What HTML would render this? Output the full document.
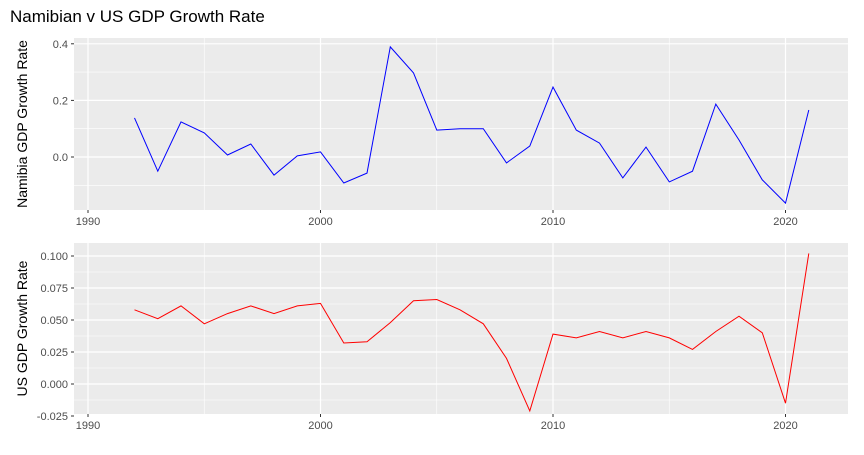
<!DOCTYPE html>
<html><head><meta charset="utf-8"><style>
body{margin:0;background:#fff;font-family:"Liberation Sans",Arial,sans-serif}
</style></head><body>
<svg width="864" height="450" xmlns="http://www.w3.org/2000/svg" font-family="Liberation Sans, Arial, sans-serif">
<text x="10" y="22" font-size="17" fill="#000">Namibian v US GDP Growth Rate</text>
<g id="top"></g>
<g id="bot"></g>
</svg>
<script>
const years=[1992,1993,1994,1995,1996,1997,1998,1999,2000,2001,2002,2003,2004,2005,2006,2007,2008,2009,2010,2011,2012,2013,2014,2015,2016,2017,2018,2019,2020,2021];
const namibiaGrowth=[0.138,-0.05,0.124,0.085,0.007,0.046,-0.064,0.004,0.018,-0.092,-0.057,0.389,0.297,0.095,0.1,0.1,-0.021,0.039,0.247,0.095,0.049,-0.074,0.035,-0.088,-0.05,0.187,0.06,-0.081,-0.163,0.166];
const usGrowth=[0.058,0.051,0.061,0.047,0.055,0.061,0.055,0.061,0.063,0.032,0.033,0.048,0.065,0.066,0.058,0.047,0.02,-0.021,0.039,0.036,0.041,0.036,0.041,0.036,0.027,0.041,0.053,0.04,-0.015,0.102];
const xTicks=[1990,2000,2010,2020];
const topTicks=[0.0,0.2,0.4];
const topTickLabels=["0.0","0.2","0.4"];
const botTicks=[-0.025,0,0.025,0.05,0.075,0.1];
const botTickLabels=["-0.025","0.000","0.025","0.050","0.075","0.100"];
const NS="http://www.w3.org/2000/svg";
const L=74,R=848;
const xs=y=>88+(y-1990)*23.25;
function mk(p,t,a){const e=document.createElementNS(NS,t);for(const k in a)e.setAttribute(k,a[k]);p.appendChild(e);return e;}
function panel(g,top,bot,ys,ticks,labels,vals,color,title,minorStep){
  const bg=mk(g,'rect',{x:L,y:top,width:R-L,height:bot-top,fill:'#ebebeb'});
  
  
  // minor gridlines
  for(let i=0;i<ticks.length-1;i++){const v=(ticks[i]+ticks[i+1])/2;mk(g,'line',{x1:L,x2:R,y1:ys(v),y2:ys(v),stroke:'#fff','stroke-width':0.6});}
  const extra=[ticks[ticks.length-1]+minorStep/2,ticks[0]-minorStep/2];
  extra.forEach(v=>{const yy=ys(v);if(yy>top&&yy<bot)mk(g,'line',{x1:L,x2:R,y1:yy,y2:yy,stroke:'#fff','stroke-width':0.6});});
  for(let i=0;i<xTicks.length-1;i++){const x=xs(xTicks[i]+5);mk(g,'line',{x1:x,x2:x,y1:top,y2:bot,stroke:'#fff','stroke-width':0.6});}
  {const x=xs(2025);if(x<R)mk(g,'line',{x1:x,x2:x,y1:top,y2:bot,stroke:'#fff','stroke-width':0.6});}
  ticks.forEach((v,i)=>{const y=ys(v);
    mk(g,'line',{x1:L,x2:R,y1:y,y2:y,stroke:'#fff','stroke-width':1.2});
    mk(g,'line',{x1:L-3,x2:L,y1:y,y2:y,stroke:'#333'});
    const t=mk(g,'text',{x:L-6,y:y+4,'font-size':11,fill:'#4d4d4d','text-anchor':'end'});t.textContent=labels[i];
    
    
  });
  xTicks.forEach(v=>{const x=xs(v);
    mk(g,'line',{x1:x,x2:x,y1:top,y2:bot,stroke:'#fff','stroke-width':1.2});
    mk(g,'line',{x1:x,x2:x,y1:bot,y2:bot+3,stroke:'#333'});
    const t=mk(g,'text',{x:x,y:bot+15,'font-size':11,fill:'#4d4d4d','text-anchor':'middle'});t.textContent=v;
    
    
  });
  const pts=years.map((y,i)=>xs(y).toFixed(1)+','+ys(vals[i]).toFixed(1)).join(' ');
  const pl=mk(g,'polyline',{points:pts,fill:'none',stroke:color,'stroke-width':1});
  
  
  const cy=(top+bot)/2;
  const tt=mk(g,'text',{x:0,y:0,'font-size':14,fill:'#000','text-anchor':'middle',transform:`translate(27,${cy}) rotate(-90)`});tt.textContent=title;
  
  
}
panel(document.getElementById('top'),38,210,v=>157-v*283,topTicks,topTickLabels,namibiaGrowth,'#0000ff','Namibia GDP Growth Rate',0.2);
panel(document.getElementById('bot'),243,414,v=>384-v*1280,botTicks,botTickLabels,usGrowth,'#ff0000','US GDP Growth Rate',0.025);
</script>
</body></html>
